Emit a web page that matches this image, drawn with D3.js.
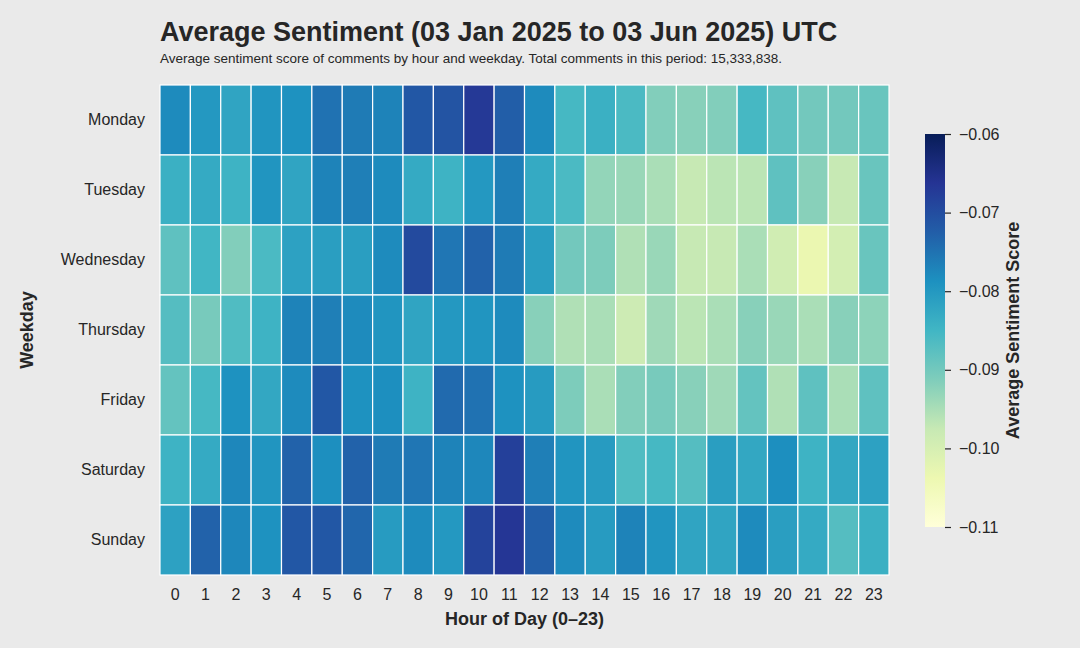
<!DOCTYPE html>
<html>
<head>
<meta charset="utf-8">
<script src="https://cdn.jsdelivr.net/npm/d3@7"></script>
<style>
  body { margin: 0; background: #eaeaea; }
  text { font-family: "Liberation Sans", Arial, sans-serif; fill: #262626; }
</style>
</head>
<body>
<div id="chart"></div>
<script>
// rows = weekdays, columns = hour 0..23
var days = ["Monday", "Tuesday", "Wednesday", "Thursday", "Friday", "Saturday", "Sunday"];
var hours = d3.range(24);

var monday    = [-0.078, -0.080, -0.082, -0.0795, -0.079, -0.075, -0.076, -0.077, -0.0715, -0.071, -0.067, -0.0725, -0.078, -0.0855, -0.084, -0.086, -0.0915, -0.092, -0.0915, -0.0855, -0.088, -0.090, -0.090, -0.089];
var tuesday   = [-0.084, -0.083, -0.0845, -0.0795, -0.082, -0.077, -0.0765, -0.078, -0.083, -0.0845, -0.080, -0.0765, -0.083, -0.086, -0.093, -0.0935, -0.095, -0.0975, -0.0965, -0.0965, -0.088, -0.092, -0.0975, -0.089];
var wednesday = [-0.088, -0.085, -0.0915, -0.086, -0.0815, -0.081, -0.081, -0.078, -0.0695, -0.0755, -0.073, -0.076, -0.081, -0.090, -0.091, -0.0955, -0.0935, -0.0975, -0.0975, -0.095, -0.099, -0.1035, -0.0995, -0.089];
var thursday  = [-0.087, -0.0905, -0.0865, -0.0845, -0.077, -0.0765, -0.078, -0.0795, -0.082, -0.080, -0.0795, -0.078, -0.092, -0.0955, -0.095, -0.0985, -0.094, -0.0965, -0.095, -0.092, -0.0935, -0.095, -0.092, -0.0925];
var friday    = [-0.0885, -0.0855, -0.079, -0.0825, -0.078, -0.0715, -0.079, -0.0785, -0.0845, -0.074, -0.075, -0.079, -0.0805, -0.091, -0.095, -0.0915, -0.0905, -0.092, -0.094, -0.0885, -0.0955, -0.088, -0.095, -0.088];
var saturday  = [-0.0845, -0.083, -0.0775, -0.0795, -0.073, -0.0785, -0.073, -0.076, -0.0755, -0.077, -0.0775, -0.068, -0.0765, -0.0795, -0.0805, -0.0865, -0.0855, -0.087, -0.081, -0.0825, -0.0785, -0.0845, -0.0825, -0.0815];
var sunday    = [-0.0815, -0.073, -0.0775, -0.079, -0.0715, -0.0715, -0.0735, -0.0805, -0.078, -0.080, -0.0685, -0.0665, -0.0725, -0.078, -0.0805, -0.077, -0.0795, -0.082, -0.082, -0.078, -0.081, -0.083, -0.087, -0.084];
var values = [monday, tuesday, wednesday, thursday, friday, saturday, sunday];

var cbarTicks = [-0.06, -0.07, -0.08, -0.09, -0.10, -0.11];
var vmin = -0.11, vmax = -0.06;

var W = 1080, H = 648;
var margin = { top: 85, left: 160, right: 191, bottom: 73 };
var width = W - margin.left - margin.right,
    height = H - margin.top - margin.bottom;

var svg = d3.select("#chart")
  .append("svg")
  .attr("width", W)
  .attr("height", H)
  .style("background", "#eaeaea");

// YlGnBu like matplotlib (linear between the 9 anchor colours)
var ylgnbu = ["#ffffd9", "#edf8b1", "#c7e9b4", "#7fcdbb", "#41b6c4", "#1d91c0", "#225ea8", "#253494", "#081d58"];
var color = d3.scaleLinear()
  .domain(ylgnbu.map(function (c, i) { return vmin + (vmax - vmin) * i / (ylgnbu.length - 1); }))
  .range(ylgnbu)
  .interpolate(d3.interpolateRgb)
  .clamp(true);

var x = d3.scaleBand().domain(hours).range([0, width]);
var y = d3.scaleBand().domain(days).range([0, height]);

var g = svg.append("g")
  .attr("transform", "translate(" + margin.left + "," + margin.top + ")");

var cells = [];
values.forEach(function (row, i) {
  row.forEach(function (v, j) { cells.push({ day: days[i], hour: hours[j], v: v }); });
});

g.selectAll("rect.cell")
  .data(cells)
  .enter()
  .append("rect")
  .attr("class", "cell")
  .attr("x", function (d) { return x(d.hour); })
  .attr("y", function (d) { return y(d.day); })
  .attr("width", x.bandwidth())
  .attr("height", y.bandwidth())
  .attr("fill", function (d) { return color(d.v); })
  .attr("stroke", "white")
  .attr("stroke-width", 1.2);

// axes without tick lines
var xAxis = g.append("g")
  .attr("transform", "translate(0," + height + ")")
  .call(d3.axisBottom(x).tickSize(0).tickPadding(14));
var yAxis = g.append("g")
  .call(d3.axisLeft(y).tickSize(0).tickPadding(15));
[xAxis, yAxis].forEach(function (a) {
  a.select(".domain").remove();
  a.selectAll("text").style("font-size", "16px").attr("fill", "#262626")
    .style("font-family", "'Liberation Sans', Arial, sans-serif");
});

// axis titles
svg.append("text")
  .attr("x", margin.left + width / 2)
  .attr("y", 625)
  .attr("text-anchor", "middle")
  .style("font-size", "18px")
  .style("font-weight", "bold")
  .text("Hour of Day (0–23)");

svg.append("text")
  .attr("transform", "translate(33," + (margin.top + height / 2) + ") rotate(-90)")
  .attr("text-anchor", "middle")
  .style("font-size", "18px")
  .style("font-weight", "bold")
  .text("Weekday");

// title + subtitle
svg.append("text")
  .attr("x", margin.left)
  .attr("y", 41)
  .style("font-size", "27px")
  .style("font-weight", "bold")
  .text("Average Sentiment (03 Jan 2025 to 03 Jun 2025) UTC");

svg.append("text")
  .attr("x", margin.left)
  .attr("y", 63)
  .style("font-size", "13.5px")
  .text("Average sentiment score of comments by hour and weekday. Total comments in this period: 15,333,838.");

// colour bar
var cbX = 925, cbW = 20, cbTop = 134, cbBot = 527;
var cy = d3.scaleLinear().domain([vmin, vmax]).range([cbBot, cbTop]);

var defs = svg.append("defs");
var grad = defs.append("linearGradient")
  .attr("id", "cbgrad")
  .attr("x1", "0%").attr("y1", "100%")
  .attr("x2", "0%").attr("y2", "0%");
ylgnbu.forEach(function (c, i) {
  grad.append("stop")
    .attr("offset", (100 * i / (ylgnbu.length - 1)) + "%")
    .attr("stop-color", c);
});

svg.append("rect")
  .attr("x", cbX)
  .attr("y", cbTop)
  .attr("width", cbW)
  .attr("height", cbBot - cbTop)
  .attr("fill", "url(#cbgrad)");

var cAxis = svg.append("g")
  .attr("transform", "translate(" + (cbX + cbW) + ",0)")
  .call(d3.axisRight(cy).tickValues(cbarTicks).tickSize(6).tickPadding(8)
    .tickFormat(function (d) { return d3.format(".2f")(d).replace("-", "−"); }));
cAxis.select(".domain").remove();
cAxis.selectAll("line").attr("stroke", "#262626").attr("stroke-width", 1.2);
cAxis.selectAll("text").style("font-size", "16px").attr("fill", "#262626")
  .style("font-family", "'Liberation Sans', Arial, sans-serif");

svg.append("text")
  .attr("transform", "translate(1019," + ((cbTop + cbBot) / 2) + ") rotate(-90)")
  .attr("text-anchor", "middle")
  .style("font-size", "18px")
  .style("font-weight", "bold")
  .text("Average Sentiment Score");
</script>
</body>
</html>
